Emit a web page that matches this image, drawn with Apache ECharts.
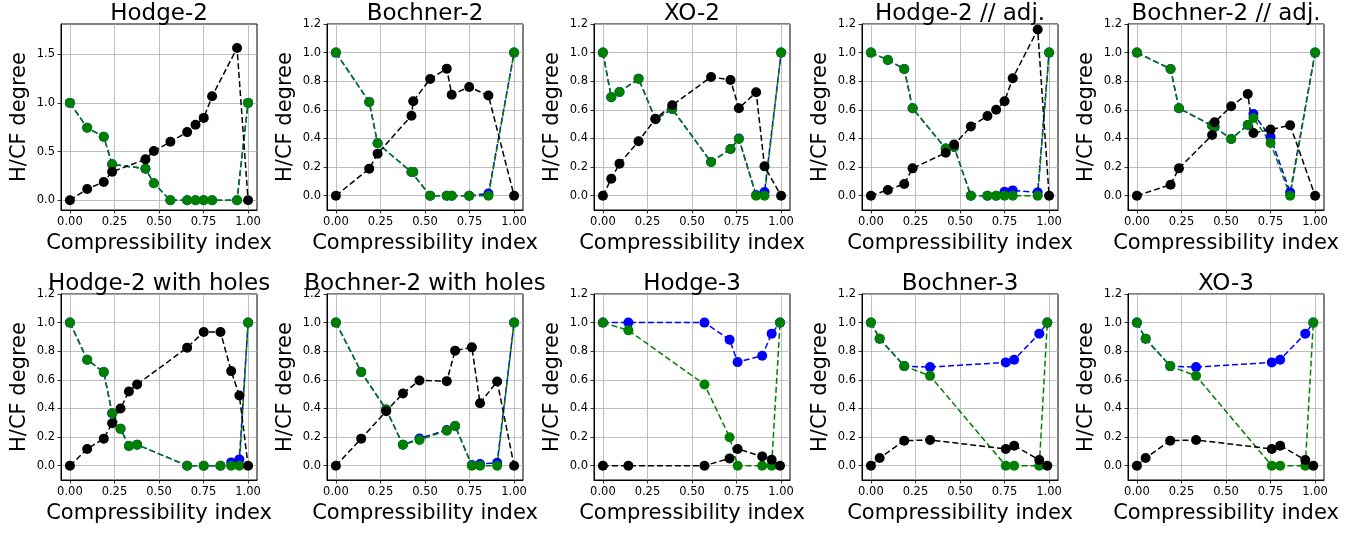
<!DOCTYPE html>
<html>
<head>
<meta charset="utf-8">
<script src="https://cdn.jsdelivr.net/npm/echarts@6/dist/echarts.min.js"></script>
<style>
html,body{margin:0;padding:0;background:#fff}
#main{width:1368px;height:533px}
</style>
</head>
<body>
<div id="main"></div>
<script>
// panel titles, in reading order
var titles = ['Hodge-2', 'Bochner-2', 'XO-2', 'Hodge-2 // adj.', 'Bochner-2 // adj.',
              'Hodge-2 with holes', 'Bochner-2 with holes', 'Hodge-3', 'Bochner-3', 'XO-3'];

var xTicks = [0, 0.25, 0.5, 0.75, 1.0];
var yTicks = [0, 0.2, 0.4, 0.6, 0.8, 1.0, 1.2];
var yTicksHodge2 = [0, 0.5, 1.0, 1.5];

// Hodge-2
var hodge2X     = [0, 0.097, 0.19, 0.237, 0.424, 0.471, 0.564, 0.658, 0.705, 0.751, 0.798, 0.938, 1.0];
var hodge2Black = [0, 0.116, 0.188, 0.293, 0.42, 0.505, 0.60, 0.70, 0.775, 0.846, 1.068, 1.563, 0];
var hodge2Green = [1, 0.744, 0.652, 0.369, 0.324, 0.174, 0, 0, 0, 0, 0, 0, 1];
var hodge2Blue  = [1, 0.744, 0.652, 0.369, 0.324, 0.174, 0, 0, 0, 0, 0, 0, 1];

// Bochner-2
var bochner2X     = [0, 0.187, 0.234, 0.424, 0.434, 0.529, 0.622, 0.65, 0.748, 0.856, 1];
var bochner2Black = [0, 0.189, 0.294, 0.559, 0.66, 0.816, 0.888, 0.706, 0.76, 0.70, 0];
var bochner2Green = [1, 0.655, 0.366, 0.165, 0.165, 0, 0, 0, 0, 0, 1];
var bochner2Blue  = [1, 0.655, 0.366, 0.165, 0.165, 0, 0, 0, 0, 0.015, 1];

// XO-2
var xo2X     = [0, 0.047, 0.093, 0.2, 0.295, 0.389, 0.607, 0.716, 0.763, 0.86, 0.907, 1];
var xo2Black = [0, 0.119, 0.224, 0.38, 0.538, 0.632, 0.83, 0.809, 0.611, 0.723, 0.205, 0];
var xo2Green = [1, 0.688, 0.725, 0.818, 0.535, 0.606, 0.235, 0.326, 0.396, 0, 0, 1];
var xo2Blue  = [1, 0.688, 0.725, 0.818, 0.535, 0.606, 0.235, 0.326, 0.40, 0.005, 0.025, 1];

// Hodge-2 // adj.
var hodge2AdjX     = [0, 0.095, 0.187, 0.234, 0.42, 0.467, 0.561, 0.654, 0.703, 0.75, 0.796, 0.936, 1];
var hodge2AdjBlack = [0, 0.04, 0.082, 0.191, 0.30, 0.357, 0.483, 0.557, 0.601, 0.66, 0.821, 1.161, 0];
var hodge2AdjGreen = [1, 0.949, 0.886, 0.611, 0.329, 0.34, 0, 0, 0, 0, 0, 0, 1];
var hodge2AdjBlue  = [1, 0.949, 0.886, 0.611, 0.329, 0.34, 0, 0, 0, 0.028, 0.037, 0.023, 1];

// Bochner-2 // adj.
var bochner2AdjX     = [0, 0.189, 0.236, 0.422, 0.436, 0.529, 0.622, 0.654, 0.75, 0.86, 1];
var bochner2AdjBlack = [0, 0.077, 0.191, 0.424, 0.513, 0.625, 0.711, 0.438, 0.462, 0.492, 0];
var bochner2AdjGreen = [1, 0.886, 0.611, 0.49, 0.48, 0.396, 0.494, 0.543, 0.368, 0, 1];
var bochner2AdjBlue  = [1, 0.886, 0.611, 0.49, 0.48, 0.396, 0.494, 0.571, 0.41, 0.023, 1];

// Hodge-2 with holes
var hodge2HolesX     = [0, 0.097, 0.19, 0.237, 0.284, 0.331, 0.377, 0.658, 0.751, 0.845, 0.905, 0.951, 1];
var hodge2HolesBlack = [0, 0.117, 0.189, 0.297, 0.40, 0.519, 0.568, 0.825, 0.935, 0.935, 0.661, 0.491, 0];
var hodge2HolesGreen = [1, 0.741, 0.654, 0.367, 0.259, 0.138, 0.147, 0, 0, 0, 0, 0, 1];
var hodge2HolesBlue  = [1, 0.741, 0.654, 0.367, 0.259, 0.138, 0.147, 0, 0, 0, 0.023, 0.044, 1];

// Bochner-2 with holes
var bochner2HolesX     = [0, 0.142, 0.282, 0.376, 0.469, 0.622, 0.669, 0.763, 0.809, 0.905, 1];
var bochner2HolesBlack = [0, 0.189, 0.381, 0.505, 0.596, 0.591, 0.804, 0.827, 0.437, 0.589, 0];
var bochner2HolesGreen = [1, 0.654, 0.393, 0.147, 0.18, 0.245, 0.278, 0, 0, 0, 1];
var bochner2HolesBlue  = [1, 0.654, 0.393, 0.147, 0.19, 0.25, 0.278, 0.005, 0.012, 0.02, 1];

// Hodge-3
var hodge3X     = [0, 0.143, 0.57, 0.711, 0.756, 0.894, 0.947, 0.994];
var hodge3Black = [0, 0, 0, 0.051, 0.117, 0.065, 0.042, 0];
var hodge3Green = [1, 0.946, 0.568, 0.199, 0, 0, 0, 1];
var hodge3Blue  = [1, 1, 1, 0.881, 0.724, 0.769, 0.923, 1];

// Bochner-3
var bochner3X     = [0, 0.049, 0.187, 0.332, 0.757, 0.804, 0.945, 0.99];
var bochner3Black = [0, 0.054, 0.175, 0.18, 0.117, 0.14, 0.04, 0];
var bochner3Green = [1, 0.888, 0.696, 0.628, 0, 0, 0, 1];
var bochner3Blue  = [1, 0.888, 0.696, 0.689, 0.722, 0.741, 0.923, 1];

// XO-3
var xo3X     = [0, 0.049, 0.187, 0.332, 0.757, 0.804, 0.945, 0.99];
var xo3Black = [0, 0.054, 0.175, 0.18, 0.117, 0.14, 0.04, 0];
var xo3Green = [1, 0.888, 0.696, 0.628, 0, 0, 0, 1];
var xo3Blue  = [1, 0.888, 0.696, 0.689, 0.722, 0.741, 0.923, 1];

var panels = [
    [hodge2X, hodge2Blue, hodge2Green, hodge2Black],
    [bochner2X, bochner2Blue, bochner2Green, bochner2Black],
    [xo2X, xo2Blue, xo2Green, xo2Black],
    [hodge2AdjX, hodge2AdjBlue, hodge2AdjGreen, hodge2AdjBlack],
    [bochner2AdjX, bochner2AdjBlue, bochner2AdjGreen, bochner2AdjBlack],
    [hodge2HolesX, hodge2HolesBlue, hodge2HolesGreen, hodge2HolesBlack],
    [bochner2HolesX, bochner2HolesBlue, bochner2HolesGreen, bochner2HolesBlack],
    [hodge3X, hodge3Blue, hodge3Green, hodge3Black],
    [bochner3X, bochner3Blue, bochner3Green, bochner3Black],
    [xo3X, xo3Blue, xo3Green, xo3Black]
];
var colors = ['#0000ff', '#008000', '#000000'];

var panelLefts = [61, 327, 594, 862, 1128];
var panelTops = [24, 294];
var panelW = 196, panelH = 186;
var fontName = 'DejaVu Sans';

function pairs(xs, ys) {
    var out = [];
    for (var i = 0; i < xs.length; i++) out.push([xs[i], ys[i]]);
    return out;
}

function buildOption() {
    var grids = [], xAxes = [], yAxes = [], allSeries = [], titleList = [];
    for (var p = 0; p < panels.length; p++) {
        var col = p % 5, row = Math.floor(p / 5);
        var gx = panelLefts[col], gy = panelTops[row];
        grids.push({
            left: gx, top: gy, width: panelW, height: panelH,
            show: true, borderColor: '#000', borderWidth: 1
        });
        titleList.push({
            text: titles[p],
            left: gx + panelW / 2, top: gy - 21, textAlign: 'center', padding: 0,
            textStyle: {fontFamily: fontName, fontSize: 23, fontWeight: 'normal', color: '#000'}
        });
        var yt = p === 0 ? yTicksHodge2 : yTicks;
        xAxes.push({
            type: 'value', gridIndex: p, min: -0.05, max: 1.05,
            name: 'Compressibility index', nameLocation: 'middle', nameGap: 23,
            nameTextStyle: {fontFamily: fontName, fontSize: 21, color: '#000'},
            axisLine: {onZero: false, lineStyle: {color: '#000', width: 1}},
            axisTick: {customValues: xTicks, length: 3.5, lineStyle: {color: '#000', width: 0.8}},
            axisLabel: {customValues: xTicks, margin: 6, fontFamily: fontName, fontSize: 11.5, color: '#000',
                formatter: function (v) { return v.toFixed(2); }},
            splitLine: {show: true, lineStyle: {color: '#b0b0b0', width: 0.8}}
        });
        yAxes.push({
            type: 'value', gridIndex: p, min: -0.1, max: p === 0 ? 1.81 : 1.2,
            name: 'H/CF degree', nameLocation: 'middle', nameGap: 31,
            nameTextStyle: {fontFamily: fontName, fontSize: 21, color: '#000'},
            axisLine: {onZero: false, lineStyle: {color: '#000', width: 1}},
            axisTick: {customValues: yt, length: 3.5, lineStyle: {color: '#000', width: 0.8}},
            axisLabel: {customValues: yt, margin: 6, fontFamily: fontName, fontSize: 11.5, color: '#000',
                formatter: function (v) { return v.toFixed(1); }},
            splitLine: {show: true, lineStyle: {color: '#b0b0b0', width: 0.8}}
        });
        var d = panels[p];
        for (var s = 0; s < 3; s++) {
            allSeries.push({
                type: 'line', xAxisIndex: p, yAxisIndex: p,
                data: pairs(d[0], d[s + 1]),
                symbol: 'circle', symbolSize: 10,
                itemStyle: {color: colors[s]},
                lineStyle: {color: colors[s], width: 1.5, type: [6, 3]}
            });
        }
    }
    return {
        backgroundColor: '#fff',
        animation: false,
        title: titleList,
        grid: grids,
        xAxis: xAxes,
        yAxis: yAxes,
        series: allSeries
    };
}

var myChart = echarts.init(document.getElementById('main'));
myChart.setOption(buildOption());
window.addEventListener('resize', function () {
    myChart.resize();
});
</script>
</body>
</html>
